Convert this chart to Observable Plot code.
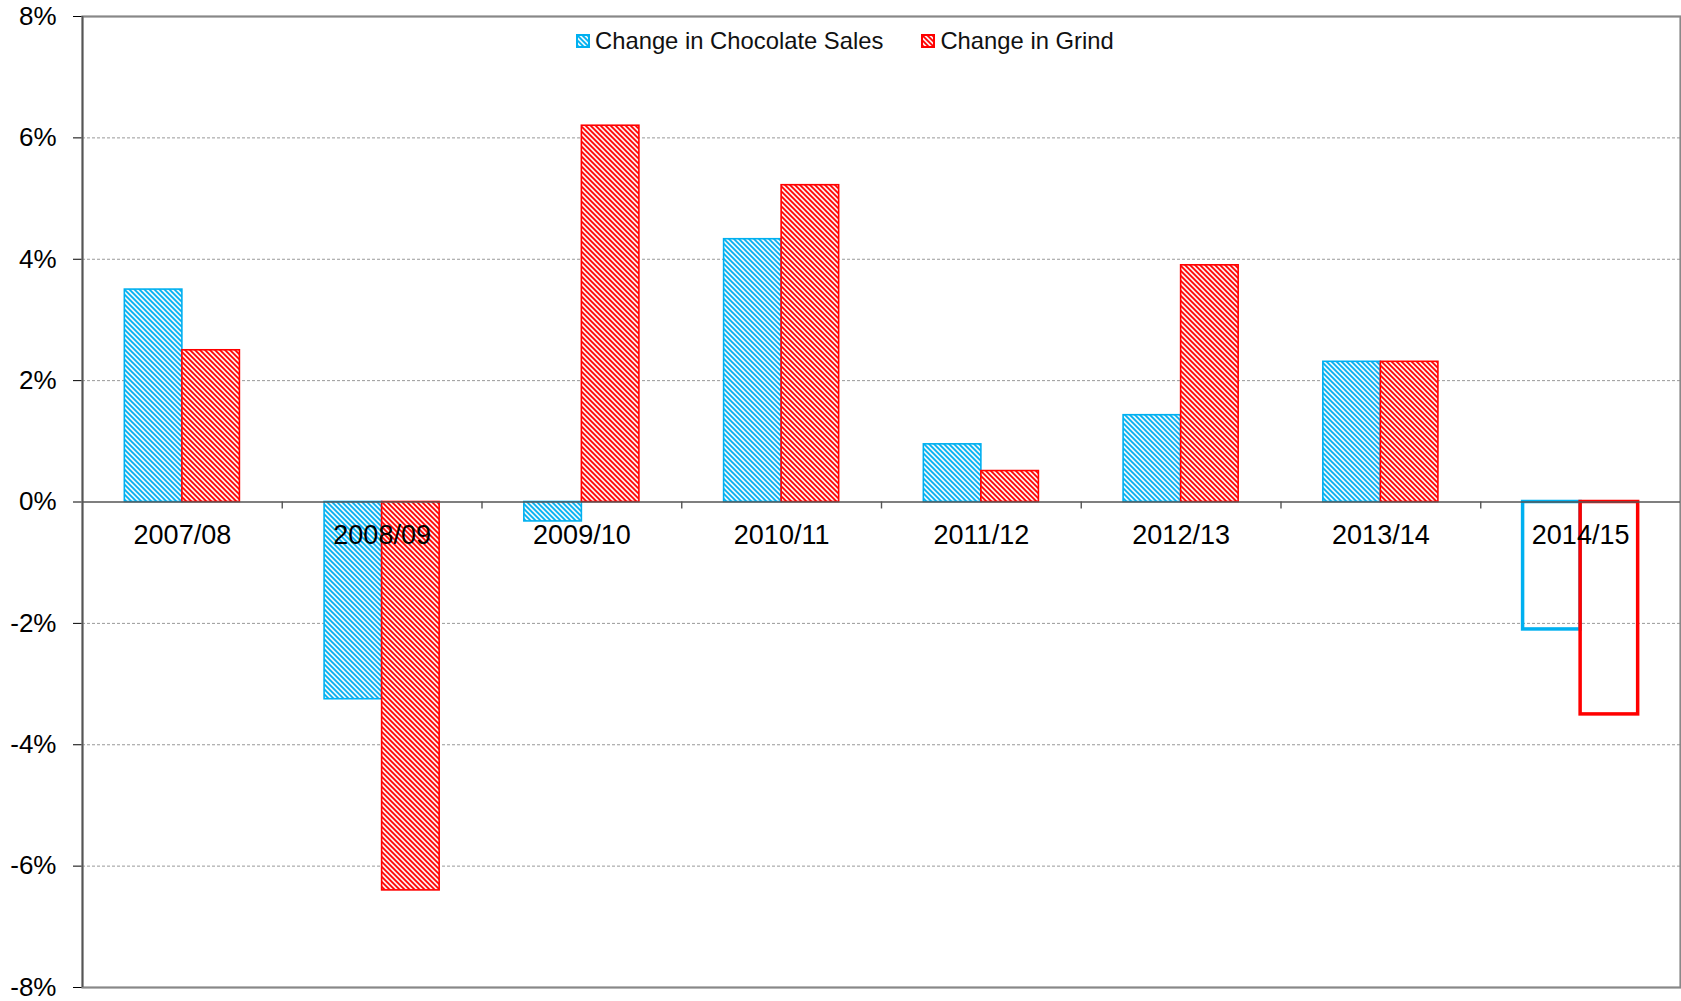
<!DOCTYPE html>
<html>
<head>
<meta charset="utf-8">
<script src="https://cdn.jsdelivr.net/npm/d3@7"></script>
<script src="https://cdn.jsdelivr.net/npm/@observablehq/plot@0.6"></script>
<style>
  html, body { margin: 0; padding: 0; background: #fff; }
  #wrap { position: relative; width: 1681px; height: 1001px; font-family: "Liberation Sans", Arial, sans-serif; }
  #legend { position: absolute; top: 27px; left: 576px; display: flex; align-items: center; font-size: 23.8px; color: #111; }
  #legend .item { display: flex; align-items: center; }
  #legend .item + .item { margin-left: 38px; }
  #legend svg { margin-right: 5px; display: block; }
</style>
</head>
<body>
<svg width="0" height="0" style="position:absolute">
  <defs>
    <pattern id="hatchBlue" patternUnits="userSpaceOnUse" width="5" height="5">
      <rect width="5" height="5" fill="#e9f7fd"/>
      <path d="M-1,-1 L6,6 M4,-1 L6,1 M-1,4 L1,6" stroke="#00B0F0" stroke-width="1.7"/>
    </pattern>
    <pattern id="hatchRed" patternUnits="userSpaceOnUse" width="5" height="5">
      <rect width="5" height="5" fill="#ffeaea"/>
      <path d="M-1,-1 L6,6 M4,-1 L6,1 M-1,4 L1,6" stroke="#FF0000" stroke-width="1.7"/>
    </pattern>
  </defs>
</svg>
<div id="wrap">
  <div id="chart"></div>
  <div id="legend"></div>
</div>
<script>
// ---- data ----
const categories = ["2007/08", "2008/09", "2009/10", "2010/11", "2011/12", "2012/13", "2013/14", "2014/15"];
const seriesNames = ["Change in Chocolate Sales", "Change in Grind"];
const chocolateSales = [3.5, -3.25, -0.32, 4.33, 0.95, 1.43, 2.31, -2.1];
const grind = [2.5, -6.4, 6.2, 5.22, 0.51, 3.9, 2.31, -3.5];
const estimated = [false, false, false, false, false, false, false, true];
const yTicks = [-8, -6, -4, -2, 0, 2, 4, 6, 8];
const gridTicks = [-6, -4, -2, 2, 4, 6];

// ---- styles ----
const colors = ["#00B0F0", "#FF0000"];
const hatches = ["url(#hatchBlue)", "url(#hatchRed)"];

const width = 1681, height = 1001;
const marginLeft = 82, marginRight = 1, marginTop = 16, marginBottom = 14;
const step = (width - marginLeft - marginRight) / categories.length;
const outer = 0.212 * step, mid = 0.5 * step;
const insets = [{insetLeft: outer, insetRight: mid}, {insetLeft: mid, insetRight: outer}];

const rows = [];
categories.forEach((c, i) => {
  [chocolateSales, grind].forEach((vals, s) => {
    rows.push({category: c, series: seriesNames[s], s, value: vals[i], estimated: estimated[i]});
  });
});

const barMarks = [];
[0, 1].forEach(s => {
  barMarks.push(Plot.rectY(rows.filter(d => d.s === s && !d.estimated), {
    x: "category", y1: 0, y2: "value",
    fill: hatches[s], stroke: colors[s], strokeWidth: 1.6, ...insets[s]
  }));
});
[0, 1].forEach(s => {
  barMarks.push(Plot.rectY(rows.filter(d => d.s === s && d.estimated), {
    x: "category", y1: 0, y2: "value",
    fill: "none", stroke: colors[s], strokeWidth: 3.5, ...insets[s]
  }));
});

const chart = Plot.plot({
  width, height, marginLeft, marginRight, marginTop, marginBottom,
  style: {fontFamily: "'Liberation Sans', Arial, sans-serif", fontSize: "26px", color: "#000", background: "#fff"},
  x: {domain: categories, padding: 0, round: false, axis: null},
  y: {domain: [-8, 8], ticks: yTicks, tickFormat: d => d + "%", tickSize: 9, tickPadding: 17, label: null},
  marks: [
    Plot.ruleY(gridTicks, {stroke: "#999", strokeWidth: 1, strokeDasharray: "3,2"}),
    Plot.frame({stroke: "#888", strokeWidth: 2.2}),
    ...barMarks,
    Plot.ruleY([0], {stroke: "#555", strokeWidth: 1.4}),
    Plot.ruleX(categories.slice(1), {x: d => d, y1: 0, y2: -0.115, dx: -step / 2, stroke: "#555", strokeWidth: 1.4}),
    Plot.ruleX([categories[0]], {x: d => d, dx: -step / 2, stroke: "#555", strokeWidth: 1.6}),
    Plot.text(categories, {x: d => d, y: 0, text: d => d, dy: 33, fontSize: 27, fill: "#000"})
  ]
});
document.getElementById("chart").appendChild(chart);

// ---- legend ----
const legend = document.getElementById("legend");
seriesNames.forEach((name, s) => {
  const item = document.createElement("div");
  item.className = "item";
  item.innerHTML = `<svg width="14" height="14"><rect x="1" y="1" width="12" height="12" fill="${hatches[s]}" stroke="${colors[s]}" stroke-width="2"/></svg><span>${name}</span>`;
  legend.appendChild(item);
});
</script>
</body>
</html>
